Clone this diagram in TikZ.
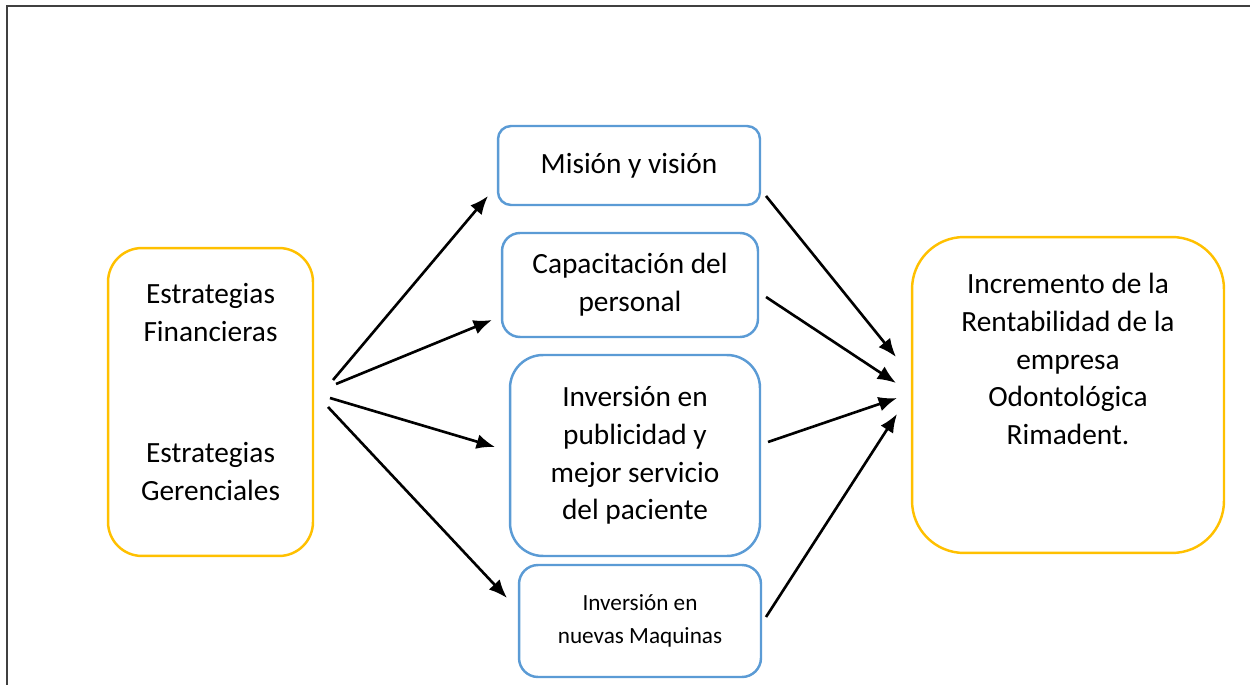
\documentclass[tikz,border=0pt]{standalone}
\usepackage{fontspec}
\setmainfont{Carlito}
\usetikzlibrary{positioning, arrows.meta, calc}

\definecolor{boxblue}{RGB}{91,155,213}
\definecolor{boxgold}{RGB}{255,192,0}
\definecolor{framegray}{RGB}{64,64,64}

\tikzset{
    bigtext/.style={align=center, inner sep=0pt, font=\fontsize{16.7pt}{21.5pt}\selectfont},
    smalltext/.style={align=center, inner sep=0pt, font=\fontsize{13.2pt}{19pt}\selectfont},
    bluebox/.style={draw=boxblue, line width=1.4pt},
    goldbox/.style={draw=boxgold, line width=1.4pt},
    flow/.style={-{Latex[length=10.5pt,width=8.5pt]}, line width=1.5pt, black}
}

\begin{document}
\begin{tikzpicture}[x=0.02cm, y=-0.02cm]
        \useasboundingbox (0,0) rectangle (1250,685);
        \draw[framegray, line width=0.85pt] (7,685) -- (7,6) -- (1250,6);

        % left and right boxes
        \node[goldbox, rounded corners=0.68cm, minimum width=4.1cm, minimum height=6.16cm] (estr) at (210.5,402) {};
        \node[bigtext, below=0.72cm of estr.north] (estrtext) {Estrategias\\Financieras\\[1.67cm]Estrategias\\Gerenciales};
        \node[goldbox, rounded corners=1.04cm, minimum width=6.24cm, minimum height=6.32cm] (incr) at (1068,395) {};
        \node[bigtext, below=0.74cm of incr.north] (incrtext) {Incremento de la\\Rentabilidad de la\\empresa\\Odontológica\\Rimadent.};

        % middle boxes
        \node[bluebox, bigtext, rounded corners=0.26cm, minimum width=5.24cm, minimum height=1.58cm] (mision) at (629,165.5) {Misión y visión};
        \node[bluebox, bigtext, rounded corners=0.36cm, minimum width=5.12cm, minimum height=2.08cm] (capac) at (630,285) {Capacitación del\\personal};
        \node[bluebox, bigtext, rounded corners=0.66cm, minimum width=5cm, minimum height=4.02cm] (public) at (635,455.5) {Inversión en\\publicidad y\\mejor servicio\\del paciente};
        \node[bluebox, smalltext, rounded corners=0.38cm, minimum width=4.84cm, minimum height=2.24cm] (maquinas) at (640,621) {Inversión en\\nuevas Maquinas};

        % arrow ends
        \coordinate (estr1) at (333,380);
        \coordinate (estr2) at (336,384);
        \coordinate (estr3) at (330,398);
        \coordinate (estr4) at (328,407);
        \coordinate (toMis) at (488,196);
        \coordinate (toCap) at (492,320);
        \coordinate (toPub) at (495,447);
        \coordinate (toMaq) at (507,598);
        \coordinate (fromMis) at (766,196);
        \coordinate (fromCap) at (766,297);
        \coordinate (fromPub) at (768,442);
        \coordinate (fromMaq) at (766,617);
        \coordinate (incr1) at (896,357);
        \coordinate (incr2) at (896,383);
        \coordinate (incr3) at (897,398);
        \coordinate (incr4) at (897,414);

        \path[flow]
        (estr1) edge (toMis)
        (estr2) edge (toCap)
        (estr3) edge (toPub)
        (estr4) edge (toMaq)
        (fromMis) edge (incr1)
        (fromCap) edge (incr2)
        (fromPub) edge (incr3)
        (fromMaq) edge (incr4);
    \end{tikzpicture}
\end{document}
